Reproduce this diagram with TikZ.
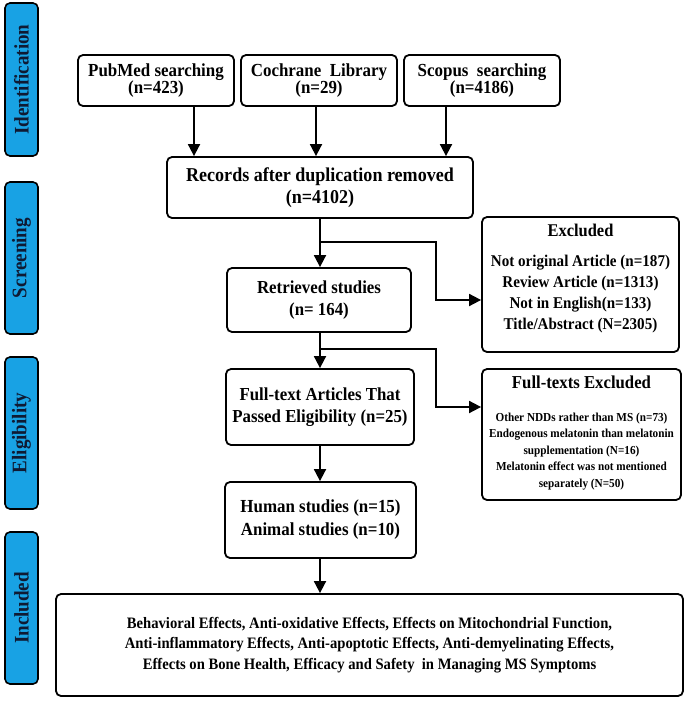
\documentclass[tikz,border=0pt]{standalone}
\usepackage{fontspec}
\setmainfont{Liberation Serif}[FakeStretch=0.92]
\usetikzlibrary{arrows.meta,calc}
\definecolor{barblue}{HTML}{18A2E4}
\definecolor{bartext}{HTML}{0F1A33}
\begin{document}
\begin{tikzpicture}[x=1pt,y=-1pt,
  box/.style={draw=black, line width=1.8pt, rounded corners=5pt, align=center, inner sep=0pt, fill=white},
  sidebar/.style={draw=black, line width=1.6pt, rounded corners=5pt, fill=barblue, rotate=90, text=bartext, font=\fontsize{20.7}{22}\selectfont\bfseries, inner sep=0pt},
  conn/.style={line width=1.8pt, draw=black},
  arr/.style={conn, -{Triangle[length=12pt,width=12pt]}},
  fA/.style={font=\fontsize{18.4}{17.5}\selectfont\bfseries},
  fB/.style={font=\fontsize{19.6}{22}\selectfont\bfseries},
  fR/.style={font=\fontsize{18.3}{22}\selectfont\bfseries},
  fC/.style={font=\fontsize{16.4}{21}\selectfont\bfseries},
  fD/.style={font=\fontsize{12.2}{16.5}\selectfont\bfseries},
  fE/.style={font=\fontsize{15.9}{20.5}\selectfont\bfseries}
]
\useasboundingbox (0,0) rectangle (685,701);

% side bars
\node[sidebar, minimum width=153pt, minimum height=33pt] (idbar) at (21.5,79.5) {Identification};
\node[sidebar, minimum width=152pt, minimum height=33pt] (scbar) at (21.5,258) {Screening};
\node[sidebar, minimum width=152pt, minimum height=33pt] (elbar) at (21.5,433) {Eligibility};
\node[sidebar, minimum width=152pt, minimum height=33pt] (inbar) at (21.5,608) {Included};

% top sources
\node[box, fA, minimum width=156pt, minimum height=51pt] (pub) at (156,80.5) {PubMed searching\\(n=423)};
\node[box, fA, minimum width=156pt, minimum height=51pt] (coch) at (319,80.5) {Cochrane\ \ Library\\(n=29)};
\node[box, fA, minimum width=156pt, minimum height=51pt] (scop) at (482,80.5) {Scopus\ \ searching\\(n=4186)};

\node[box, fB, minimum width=306pt, minimum height=61pt] (rec) at (320,187.5) {Records after duplication removed\\(n=4102)};

\node[box, fR, minimum width=184pt, minimum height=64pt] (ret) at (319,300) {Retrieved studies\\(n= 164)};

\node[box, minimum width=197pt, minimum height=135pt] (excl) at (580.5,284.5) {};
\node[fC, align=center, anchor=north] (exclt) at (580.5,221) {{\fontsize{17.9}{21}\selectfont Excluded}\\[9pt]Not original Article (n=187)\\Review Article (n=1313)\\Not in English(n=133)\\Title/Abstract (N=2305)};

\node[box, fR, minimum width=188pt, minimum height=76pt] (ft) at (320,407) {Full-text Articles That\\Passed Eligibility (n=25)};

\node[box, minimum width=199pt, minimum height=131pt] (ftex) at (581.5,434.5) {};
\node[font=\fontsize{18.2}{20}\selectfont\bfseries, anchor=north] (ftext) at (581.5,372) {Full-texts Excluded};
\node[fD, align=center, anchor=north] (ftexl) at (581.5,409) {Other NDDs rather than MS (n=73)\\Endogenous melatonin than melatonin\\supplementation (N=16)\\Melatonin effect was not mentioned\\separately (N=50)};

\node[box, font=\fontsize{18.4}{23}\selectfont\bfseries, minimum width=191pt, minimum height=76pt] (hum) at (320.5,520) {Human studies (n=15)\\Animal studies (n=10)};

\node[box, fE, minimum width=627pt, minimum height=102pt] (bot) at (369.5,645) {Behavioral Effects, Anti-oxidative Effects, Effects on Mitochondrial Function,\\Anti-inflammatory Effects, Anti-apoptotic Effects, Anti-demyelinating Effects,\\Effects on Bone Health, Efficacy and Safety\ \ in Managing MS Symptoms};

% connectors
\draw[arr] ([xshift=38pt]pub.south) -- ([xshift=38pt]pub.south |- rec.north);
\draw[arr] ([xshift=-3pt]coch.south) -- ([xshift=-3pt]coch.south |- rec.north);
\draw[arr] ([xshift=-36pt]scop.south) -- ([xshift=-36pt]scop.south |- rec.north);

\draw[arr] (rec.south) -- (rec.south |- ret.north);
\coordinate (b1) at (320,242);
\coordinate (k1) at (436,242);
\draw[arr] (b1) -- (k1) |- (excl.west |- 0,300);

\draw[arr] (ret.south -| rec.south) -- (ft.north -| rec.south);
\coordinate (b2) at (320,349);
\coordinate (k2) at (436,349);
\draw[arr] (b2) -- (k2) |- (ftex.west |- 0,407);

\draw[arr] (ft.south) -- (ft.south |- hum.north);
\draw[arr] (hum.south -| ft.south) -- (bot.north -| ft.south);
\end{tikzpicture}
\end{document}
